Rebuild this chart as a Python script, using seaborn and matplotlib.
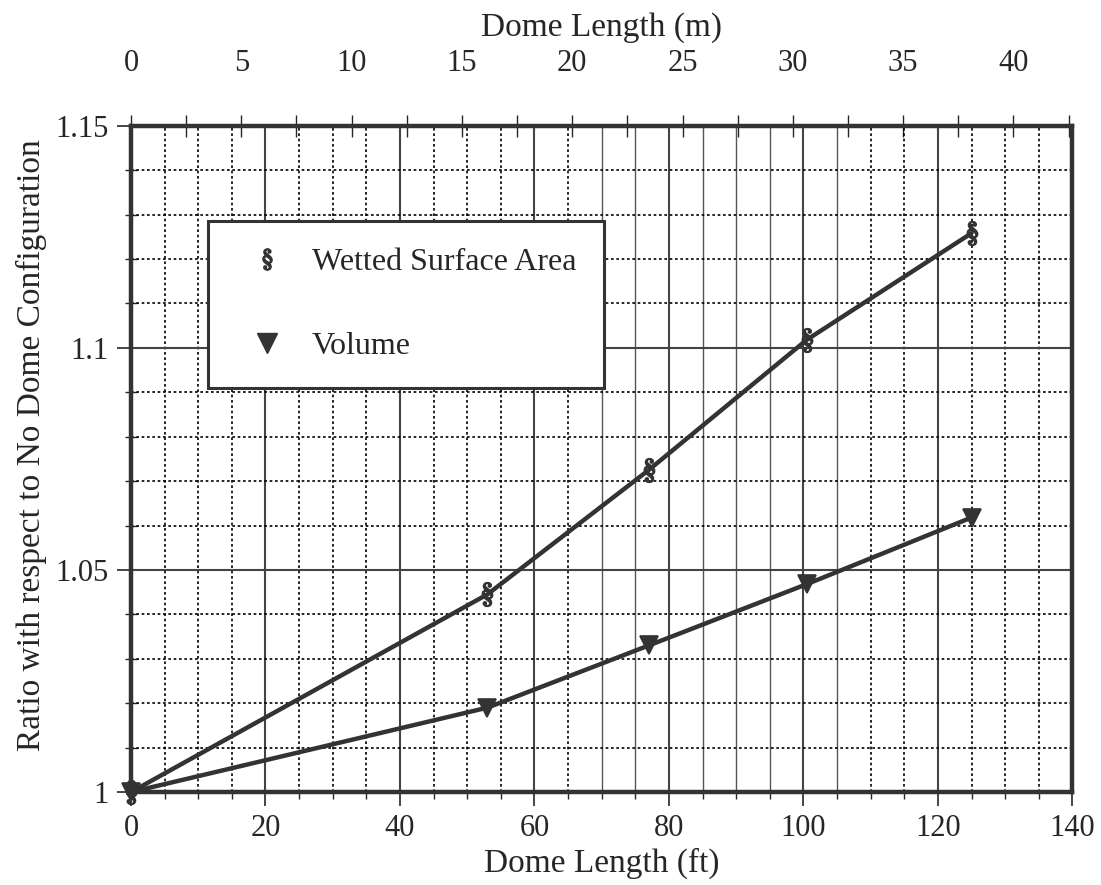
import numpy as np
import pandas as pd
import seaborn as sns
import matplotlib.pyplot as plt
from matplotlib.lines import Line2D
from matplotlib.ticker import MultipleLocator

# values
dome_ft = [0, 53, 77, 100.5, 125]
wetted_area = [1.0, 1.0445, 1.0725, 1.1018, 1.1258]
volume = [1.0, 1.019, 1.033, 1.0468, 1.0618]
series_names = ["Wetted Surface Area", "Volume"]
top_ticks_m = [0, 5, 10, 15, 20, 25, 30, 35, 40]

df = pd.DataFrame({
    "ft": dome_ft * 2,
    "ratio": wetted_area + volume,
    "series": [series_names[0]] * len(dome_ft) + [series_names[1]] * len(dome_ft),
})

sns.set_style("white")
plt.rcParams["font.family"] = ["Liberation Serif", "DejaVu Serif"]
plt.rcParams["mathtext.fontset"] = "stix"

fig = plt.figure(figsize=(11.01, 8.85), dpi=100)
ax = fig.add_axes([0.119, 0.105, 0.855, 0.753])

line_col = "#333333"
markers = {"Wetted Surface Area": "$§$", "Volume": "v"}
sizes = {"Wetted Surface Area": 17, "Volume": 13}
for name in series_names:
    sub = df[df["series"] == name]
    sns.lineplot(data=sub, x="ft", y="ratio", ax=ax, color=line_col, lw=3.2,
                 marker=markers[name], markersize=sizes[name],
                 markeredgecolor=line_col, markerfacecolor=line_col,
                 markeredgewidth=1.2,
                 legend=False, zorder=5, clip_on=False)

ax.set_xlim(0, 140)
ax.set_ylim(1.0, 1.15)
ax.xaxis.set_major_locator(MultipleLocator(20))
ax.xaxis.set_minor_locator(MultipleLocator(5))
ax.yaxis.set_major_locator(MultipleLocator(0.05))
ax.yaxis.set_minor_locator(MultipleLocator(0.01))
ax.set_yticks([1.0, 1.05, 1.1, 1.15])
ax.set_yticklabels(["1", "1.05", "1.1", "1.15"])

# grid: solid majors, dotted minors (middle block of the scan is solid)
dot = (0, (1.6, 1.6))
for x in np.arange(5, 140, 5):
    if x % 20 == 0:
        ax.axvline(x, color="#444444", lw=1.5, zorder=1)
    elif 70 <= x <= 105:
        ax.axvline(x, color="#555555", lw=1.0, zorder=1)
    else:
        ax.axvline(x, color="black", lw=1.2, ls=dot, zorder=1)
for y in np.arange(1.01, 1.15, 0.01):
    if abs((y - 1.0) / 0.05 - round((y - 1.0) / 0.05)) < 1e-6:
        ax.axhline(y, color="#444444", lw=1.5, zorder=1)
    else:
        ax.axhline(y, color="black", lw=1.2, ls=dot, zorder=1)

for s in ax.spines.values():
    s.set_linewidth(3.2)
    s.set_color("#333333")

ax.tick_params(axis="both", which="major", direction="out", length=10, width=1.2,
               labelsize=22, pad=6, left=True, bottom=True)
ax.tick_params(axis="both", which="minor", direction="inout", length=8, width=1.0,
               left=True, bottom=True)
ax.tick_params(axis="x", which="minor", direction="out", length=5)

ax.set_xlabel("Dome Length (ft)", fontsize=24, labelpad=3)
ax.set_ylabel("Ratio with respect to No Dome Configuration", fontsize=24)
ax.yaxis.set_label_coords(-0.089, 0.52)

sec = ax.secondary_xaxis("top", functions=(lambda f: f / 3.2808, lambda m: m * 3.2808))
sec.set_xticks(top_ticks_m)
sec.xaxis.set_minor_locator(MultipleLocator(2.5))
sec.tick_params(which="both", direction="inout", length=16, width=1.0, labelsize=22, pad=26)
sec.spines["top"].set_visible(False)
sec.set_xlabel("Dome Length (m)", fontsize=24, labelpad=10)

handles = [
    Line2D([], [], ls="none", marker="$§$", markersize=15, color=line_col,
           markeredgewidth=1.2),
    Line2D([], [], ls="none", marker="v", markersize=15, color=line_col),
]
leg = ax.legend(handles, series_names, loc="upper left", bbox_to_anchor=(0.082, 0.857),
                fontsize=23, frameon=True, fancybox=False, borderpad=0.85,
                labelspacing=1.7, handlelength=2.0, handletextpad=0.4,
                borderaxespad=0)
leg.get_frame().set_edgecolor("#333333")
leg.get_frame().set_linewidth(2.2)
leg.get_frame().set_alpha(1)
leg.set_zorder(10)

plt.savefig("out.png", dpi=100)
